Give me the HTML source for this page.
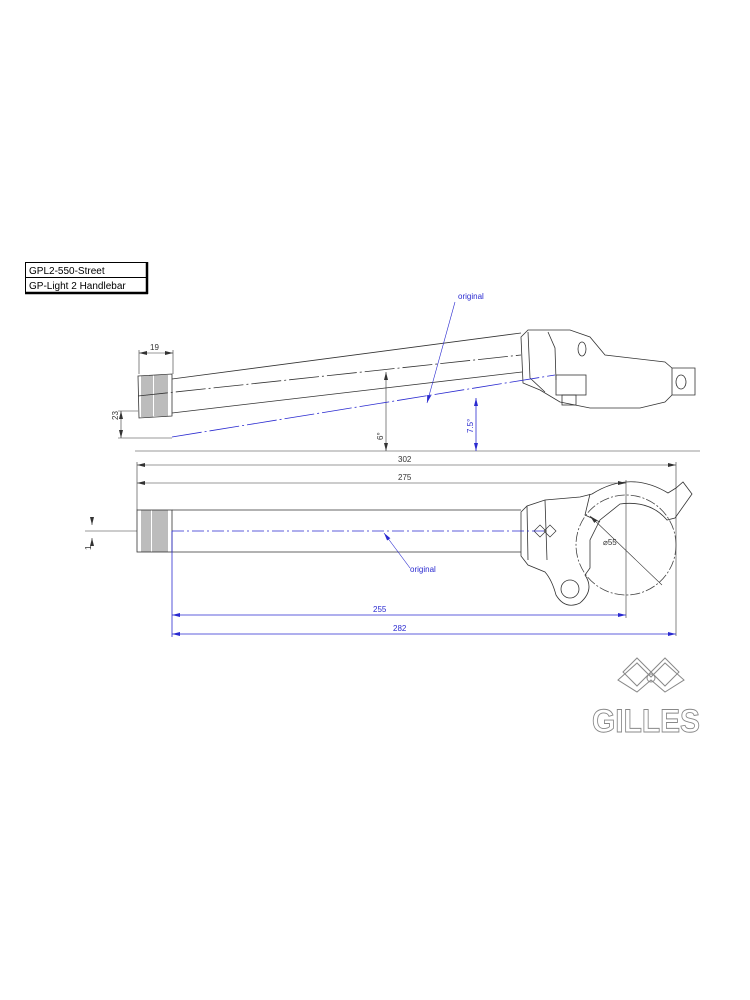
<!DOCTYPE html>
<html><head><meta charset="utf-8"><style>
html,body{margin:0;padding:0;background:#fff}
svg{display:block}
text{font-family:"Liberation Sans",sans-serif}
</style></head><body>
<svg width="750" height="1000" viewBox="0 0 750 1000" xmlns="http://www.w3.org/2000/svg">
<defs>
<marker id="a" markerWidth="8" markerHeight="6" refX="8" refY="3" orient="auto-start-reverse" markerUnits="userSpaceOnUse"><path d="M0,1 L8,3 L0,5z" fill="#333"/></marker>
<marker id="b" markerWidth="8" markerHeight="6" refX="8" refY="3" orient="auto-start-reverse" markerUnits="userSpaceOnUse"><path d="M0,1 L8,3 L0,5z" fill="#2a2ad0"/></marker>
</defs>
<rect x="25.5" y="262.5" width="121" height="30" fill="none" stroke="#000" stroke-width="1"/>
<line x1="147" y1="262" x2="147" y2="294" stroke="#000" stroke-width="2.5"/>
<line x1="25" y1="293" x2="148" y2="293" stroke="#000" stroke-width="2.5"/>
<line x1="25" y1="277.5" x2="147" y2="277.5" stroke="#000"/>
<text x="29" y="274" font-size="10">GPL2-550-Street</text>
<text x="29" y="289" font-size="10">GP-Light 2 Handlebar</text>

<g stroke="#333" stroke-width="0.8" fill="none">
<path d="M138,376 L172,374 L172,416 L139,418 Z"/>
<g stroke="#222" stroke-width="0.6">
<path d="M142,376V417M144,376V417M146,376V417M148,376V417M150,375V417M152,375V417M155,375V416M157,375V416M159,375V416M161,375V416M163,375V416M165,375V416M167,375V416"/>
</g>
<line x1="172" y1="379" x2="521" y2="333"/>
<line x1="172" y1="413" x2="522" y2="372"/>
<line x1="138" y1="396" x2="521" y2="355" stroke-dasharray="30,3,2,3"/>
<path d="M521,337 L528,330 L570,330 L590,337 L605,355 L665,362 L672,368 L695,368 L695,395 L672,395 L665,402 L640,408 L590,408 L560,402 L540,390 L523,383 Z"/>
<path d="M528,332 L530,378 L545,392 M548,332 L555,348 L556,380"/>
<rect x="556" y="375" width="30" height="20"/>
<rect x="562" y="395" width="14" height="10"/>
<ellipse cx="582" cy="349" rx="4" ry="7"/>
<line x1="672" y1="368" x2="672" y2="395"/>
<ellipse cx="681" cy="382" rx="5" ry="7"/>
</g>
<line x1="135" y1="451" x2="700" y2="451" stroke="#999" stroke-width="1"/>
<g stroke="#333" stroke-width="0.6" fill="none">
<line x1="139" y1="350" x2="139" y2="374"/><line x1="173" y1="350" x2="173" y2="374"/>
<line x1="139" y1="353" x2="173" y2="353" marker-start="url(#a)" marker-end="url(#a)"/>
<line x1="118" y1="411" x2="138" y2="411"/><line x1="118" y1="438" x2="172" y2="438"/>
<line x1="121" y1="411" x2="121" y2="438" marker-start="url(#a)" marker-end="url(#a)"/>
<line x1="386" y1="372" x2="386" y2="451" marker-start="url(#a)" marker-end="url(#a)"/>
</g>
<text x="150" y="350" font-size="8" fill="#333">19</text>
<text transform="translate(118,420) rotate(-90)" font-size="8" fill="#333">23</text>
<text transform="translate(383,440) rotate(-90)" font-size="8" fill="#333">6°</text>
<g stroke="#2a2ad0" stroke-width="0.8" fill="none">
<line x1="172" y1="437" x2="555" y2="375" stroke-dasharray="30,3,2,3"/>
<line x1="476" y1="398" x2="476" y2="451" marker-start="url(#b)" marker-end="url(#b)"/>
<line x1="455" y1="302" x2="427" y2="403" stroke-width="0.6" marker-end="url(#b)"/>
</g>
<text transform="translate(473,433) rotate(-90)" font-size="8" fill="#2a2ad0">7.5°</text>
<text x="458" y="299" font-size="8" fill="#2a2ad0">original</text>

<g stroke="#333" stroke-width="0.6" fill="none">
<line x1="137" y1="462" x2="137" y2="510"/>
<line x1="676" y1="462" x2="676" y2="636"/>
<line x1="626" y1="480" x2="626" y2="618"/>
<line x1="137" y1="465" x2="676" y2="465" marker-start="url(#a)" marker-end="url(#a)"/>
<line x1="137" y1="483" x2="626" y2="483" marker-start="url(#a)" marker-end="url(#a)"/>
<line x1="92" y1="520" x2="92" y2="525" marker-end="url(#a)"/>
<line x1="92" y1="543" x2="92" y2="538" marker-end="url(#a)"/>
<line x1="85" y1="531" x2="137" y2="531"/>
</g>
<text x="398" y="462" font-size="8" fill="#333">302</text>
<text x="398" y="480" font-size="8" fill="#333">275</text>
<text transform="translate(91,550) rotate(-90)" font-size="8" fill="#333">1</text>
<g stroke="#333" stroke-width="0.8" fill="none">
<rect x="137" y="510" width="35" height="42"/>
<path stroke="#222" stroke-width="0.6" d="M142,510V552M144,510V552M146,510V552M148,510V552M150,510V552M153,510V552M155,510V552M157,510V552M159,510V552M161,510V552M163,510V552M165,510V552M167,510V552"/>
<line x1="172" y1="510" x2="521" y2="510"/>
<line x1="172" y1="552" x2="521" y2="552"/>
<path d="M521,512 L527,506 L545,500 L580,497 L592,494 Q630,470 668,493 L676,488 L683,482 L692,494 L675,518 L667,520 Q650,500 620,504 L600,520 L590,540 L590,568 L585,575 Q595,590 580,603 Q565,610 556,595 Q552,580 545,572 L528,565 L521,556 Z"/>
<circle cx="570" cy="589" r="9"/>
<path d="M545,500 L547,560 M527,506 L528,560 M590,494 L585,515 L600,522"/>
<circle cx="626" cy="545" r="50" stroke-dasharray="10,2,2,2" stroke="#444"/>
<line x1="590" y1="516" x2="662" y2="585" marker-start="url(#a)" stroke-width="0.6"/>
<path d="M540,525 l6,6 l-6,6 l-6,-6z M550,525 l6,6 l-6,6 l-6,-6z" stroke-width="0.7"/>
</g>
<text x="603" y="545" font-size="8" fill="#333">⌀55</text>
<g stroke="#2a2ad0" stroke-width="0.8" fill="none">
<line x1="172" y1="531" x2="545" y2="531" stroke-dasharray="12,3,2,3"/>
<line x1="172" y1="531" x2="172" y2="637"/>
<line x1="172" y1="615" x2="626" y2="615" marker-start="url(#b)" marker-end="url(#b)"/>
<line x1="172" y1="634" x2="676" y2="634" marker-start="url(#b)" marker-end="url(#b)"/>
<line x1="410" y1="568" x2="384" y2="533" stroke-width="0.6" marker-end="url(#b)"/>
</g>
<text x="373" y="612" font-size="8" fill="#2a2ad0">255</text>
<text x="393" y="631" font-size="8" fill="#2a2ad0">282</text>
<text x="410" y="572" font-size="8" fill="#2a2ad0">original</text>

<g stroke="#888" stroke-width="1" fill="none">
<path d="M623,672 L637,658 L651,672 L665,658 L679,672 L665,686 L651,672 L637,686 Z"/>
<path d="M618,680 L637,663 L651,677 L665,663 L684,680 L665,692 L651,680 L637,692 Z"/>
<circle cx="651" cy="678" r="4"/>
</g>
<text x="592" y="732" font-size="32" font-weight="bold" fill="none" stroke="#888" stroke-width="0.9" textLength="108" lengthAdjust="spacingAndGlyphs">GILLES</text>
</svg>
</body></html>
